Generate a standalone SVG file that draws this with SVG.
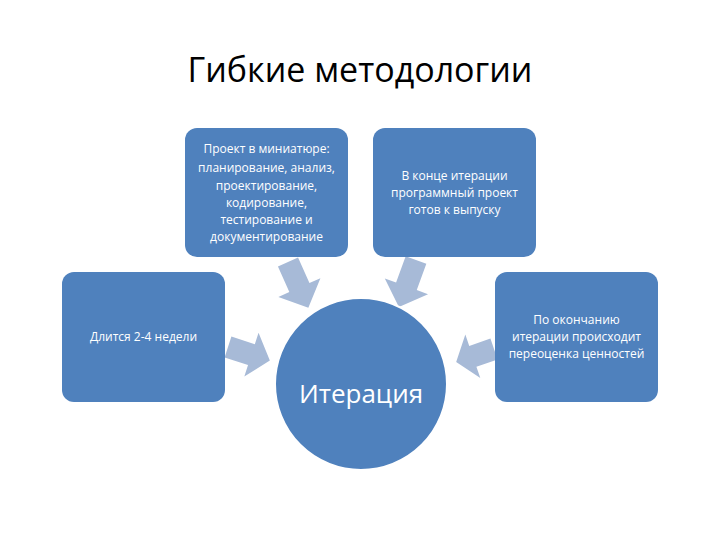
<svg xmlns="http://www.w3.org/2000/svg" width="720" height="540" viewBox="0 0 720 540">
<style>
.box{fill:#4f81bd}
.t{font-family:"Open Sans","Liberation Sans",sans-serif;font-size:12px;fill:#fff;text-anchor:middle}
.arr{fill:#a7bad7}
</style>
<defs>
<polygon id="ar" points="0,-11 28,-11 28,-23 50,0 28,23 28,11 0,11"/>
</defs>
<rect width="720" height="540" fill="#fff"/>
<text x="360" y="82" font-family="'Open Sans','Liberation Sans',sans-serif" font-size="34" text-anchor="middle" fill="#000">Гибкие методологии</text>
<g id="connectors">
<use href="#ar" class="arr" transform="translate(288,262) rotate(66)"/>
<use href="#ar" class="arr" transform="translate(416,260) rotate(110)"/>
<use href="#ar" class="arr" transform="translate(228,347) rotate(18) scale(0.88,1)"/>
<use href="#ar" class="arr" transform="translate(494,349) rotate(161) scale(0.8,1)"/>
</g>
<g id="n1"><rect class="box" x="185" y="128" width="163" height="129" rx="12"/>
<text class="t" x="266.5" y="153">Проект в миниатюре:</text>
<text class="t" x="266.5" y="172">планирование, анализ,</text>
<text class="t" x="266.5" y="190">проектирование,</text>
<text class="t" x="266.5" y="207">кодирование,</text>
<text class="t" x="266.5" y="224">тестирование  и</text>
<text class="t" x="266.5" y="241">документирование</text></g>
<g id="n2"><rect class="box" x="373" y="128" width="163" height="129" rx="12"/>
<text class="t" x="454.5" y="180">В конце итерации</text>
<text class="t" x="454.5" y="197">программный проект</text>
<text class="t" x="454.5" y="214">готов к выпуску</text></g>
<g id="n3"><rect class="box" x="62" y="272" width="163" height="130" rx="12"/>
<text class="t" x="143.5" y="341">Длится 2-4 недели</text></g>
<g id="n4"><rect class="box" x="495" y="272" width="163" height="130" rx="12"/>
<text class="t" x="576.5" y="324">По окончанию</text>
<text class="t" x="576.5" y="341">итерации происходит</text>
<text class="t" x="576.5" y="358">переоценка ценностей</text></g>
<g id="center"><circle class="box" cx="361" cy="384" r="86" stroke="#fff" stroke-width="2"/>
<text x="361" y="403" font-family="'Open Sans','Liberation Sans',sans-serif" font-size="26" fill="#fff" text-anchor="middle">Итерация</text></g>
</svg>
